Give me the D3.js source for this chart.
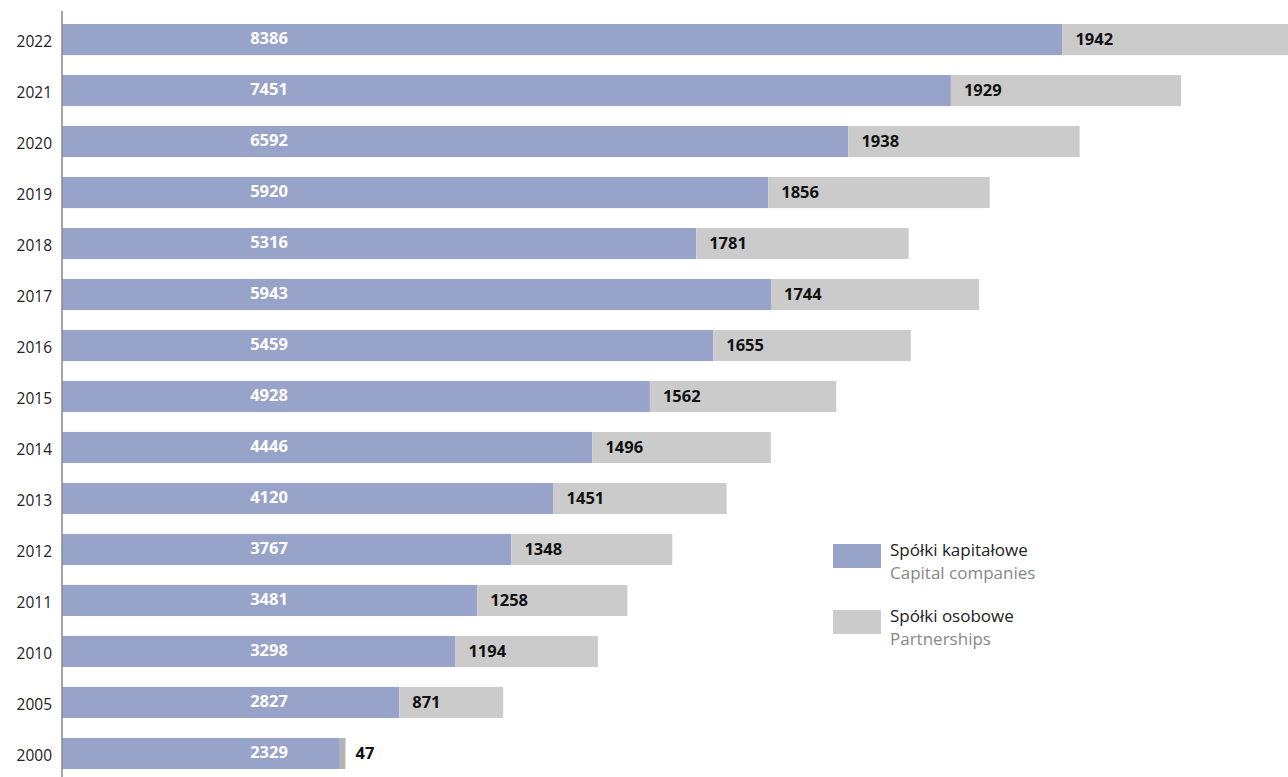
<!DOCTYPE html>
<html>
<head>
<meta charset="utf-8">
<script src="https://cdn.jsdelivr.net/npm/d3@7"></script>
<style>
  body { margin: 0; background: #fff; }
  svg { display: block; font-family: "Open Sans", "Noto Sans", sans-serif; }
</style>
</head>
<body>
<div id="chart"></div>
<script>
const years = ["2022","2021","2020","2019","2018","2017","2016","2015","2014","2013","2012","2011","2010","2005","2000"];
const capital = [8386,7451,6592,5920,5316,5943,5459,4928,4446,4120,3767,3481,3298,2827,2329];
const partnerships = [1942,1929,1938,1856,1781,1744,1655,1562,1496,1451,1348,1258,1194,871,47];
const legendPl = ["Spółki kapitałowe", "Spółki osobowe"];
const legendEn = ["Capital companies", "Partnerships"];

const width = 1288, height = 777;
const colours = ["#98a3c9", "#cbcbcb"];

const data = years.map((y, i) => ({year: y, cap: capital[i], part: partnerships[i]}));

var xScale = d3.scaleLinear()
    .domain([0, 10000])
    .range([62, 1255]);

var yScale = d3.scaleBand()
    .domain(years)
    .range([14, 14 + years.length * 51])
    .paddingInner(0.39)
    .paddingOuter(0.196);

var svg = d3.select('#chart')
    .append('svg')
    .attr('width', width)
    .attr('height', height);

var rows = svg.append('g').attr('class', 'rows')
    .selectAll('g')
    .data(data)
    .enter()
    .append('g');

rows.append('rect')
    .attr('x', xScale(0))
    .attr('y', d => yScale(d.year))
    .attr('width', d => xScale(d.cap) - xScale(0))
    .attr('height', yScale.bandwidth())
    .attr('fill', colours[0]);

rows.append('rect')
    .attr('x', d => xScale(d.cap))
    .attr('y', d => yScale(d.year))
    .attr('width', d => xScale(d.part) - xScale(0))
    .attr('height', yScale.bandwidth())
    .attr('fill', d => d.part < 100 ? '#b4b4b4' : colours[1]);

// values inside blue bars
rows.append('text')
    .attr('x', 269)
    .attr('y', d => yScale(d.year) + yScale.bandwidth() / 2 - 1)
    .attr('dy', '0.35em')
    .attr('text-anchor', 'middle')
    .attr('fill', '#fff')
    .attr('font-size', 16.5)
    .attr('font-weight', 700)
    .text(d => d.cap);

// values in grey bars
rows.append('text')
    .attr('x', d => d.part < 100 ? xScale(d.cap + d.part) + 10 : xScale(d.cap) + 13)
    .attr('y', d => yScale(d.year) + yScale.bandwidth() / 2)
    .attr('dy', '0.35em')
    .attr('fill', '#111')
    .attr('font-size', 16.5)
    .attr('font-weight', 700)
    .text(d => d.part);

// year labels
svg.append('g').selectAll('text')
    .data(data)
    .enter()
    .append('text')
    .attr('x', 52)
    .attr('y', d => yScale(d.year) + yScale.bandwidth() / 2 + 2)
    .attr('dy', '0.35em')
    .attr('text-anchor', 'end')
    .attr('fill', '#222')
    .attr('font-size', 15.5)
    .text(d => d.year);

// vertical axis line
svg.append('line')
    .attr('x1', 62).attr('x2', 62)
    .attr('y1', 11).attr('y2', height)
    .attr('stroke', '#888')
    .attr('stroke-width', 1.5);

// legend
var legend = svg.append('g')
    .attr('transform', 'translate(833, 544)');

for (var i = 0; i < 2; i++) {
    var off = i * 66;
    legend.append('rect')
        .attr('x', 0)
        .attr('y', off)
        .attr('width', 48)
        .attr('height', 24)
        .attr('fill', colours[i]);
    legend.append('text')
        .attr('x', 57)
        .attr('y', off + 12)
        .attr('fill', '#222')
        .attr('font-size', 17)
        .text(legendPl[i]);
    legend.append('text')
        .attr('x', 57)
        .attr('y', off + 35)
        .attr('fill', '#888')
        .attr('font-size', 17)
        .text(legendEn[i]);
}
</script>
</body>
</html>
